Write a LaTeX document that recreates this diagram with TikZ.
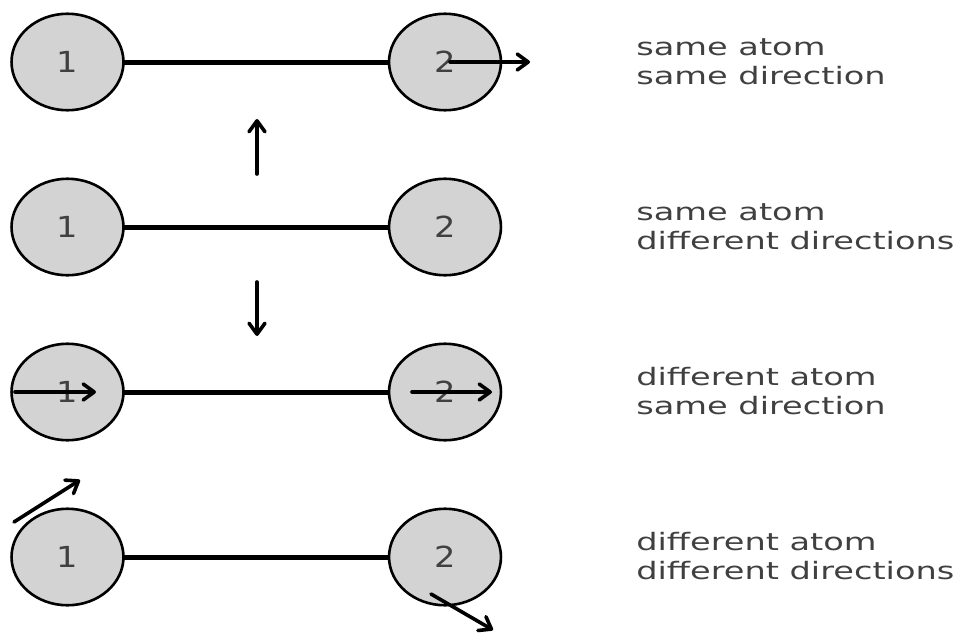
\documentclass[tikz,border=0pt]{standalone}
\usepackage{fontspec}
\setmainfont{DejaVu Sans}
\usetikzlibrary{arrows.meta}
\definecolor{atomgray}{HTML}{D3D3D3}
\definecolor{textgray}{HTML}{404040}
\tikzset{
	atom/.style={circle, draw=black, fill=atomgray, line width=2.6pt, minimum size=96.5pt,
		inner sep=0pt, outer sep=0pt, xscale=1.16, text=textgray, font=\fontsize{29}{29}\selectfont},
	bond/.style={line width=5pt},
	spin/.style={line width=3.6pt, line cap=round,
		-{Straight Barb[length=11pt, width=16pt, round]}},
	caption/.style={anchor=base west, align=left, inner sep=0pt, xscale=1.4,
		text=textgray, font=\fontsize{24}{28.3}\selectfont}
}

\begin{document}
\begin{tikzpicture}[x=1pt, y=-1pt]
	\useasboundingbox (0,0) rectangle (961,632);
	% same atom, same direction
	\node[atom] (a1) at (67.5, 62) {1};
	\node[atom] (b1) at (445, 62) {2};
	\draw[bond] (a1) -- (b1);
	\coordinate (s1) at (450, 62);
	\coordinate (e1) at (530, 62);
	\draw[spin] (s1) -- (e1);
	\node[caption] (c1) at (636, 84) {same atom\\same direction};
	% same atom, different directions
	\node[atom] (a2) at (67.5, 227) {1};
	\node[atom] (b2) at (445, 227) {2};
	\draw[bond] (a2) -- (b2);
	\coordinate (s2) at (257, 174);
	\coordinate (e2) at (257, 119);
	\coordinate (s3) at (257, 282);
	\coordinate (e3) at (257, 336);
	\draw[spin] (s2) -- (e2);
	\draw[spin] (s3) -- (e3);
	\node[caption] (c2) at (636, 249) {same atom\\different directions};
	% different atom, same direction
	\node[atom] (a3) at (67.5, 392) {1};
	\node[atom] (b3) at (445, 392) {2};
	\draw[bond] (a3) -- (b3);
	\coordinate (s4) at (15, 392);
	\coordinate (e4) at (96, 392);
	\coordinate (s5) at (412, 392);
	\coordinate (e5) at (492, 392);
	\draw[spin] (s4) -- (e4);
	\draw[spin] (s5) -- (e5);
	\node[caption] (c3) at (636, 414) {different atom\\same direction};
	% different atom, different directions
	\node[atom] (a4) at (67.5, 557) {1};
	\node[atom] (b4) at (445, 557) {2};
	\draw[bond] (a4) -- (b4);
	\coordinate (s6) at (14, 522);
	\coordinate (e6) at (80, 480);
	\coordinate (s7) at (431, 594);
	\coordinate (e7) at (493, 630);
	\draw[spin] (s6) -- (e6);
	\draw[spin] (s7) -- (e7);
	\node[caption] (c4) at (636, 579) {different atom\\different directions};
\end{tikzpicture}
\end{document}
